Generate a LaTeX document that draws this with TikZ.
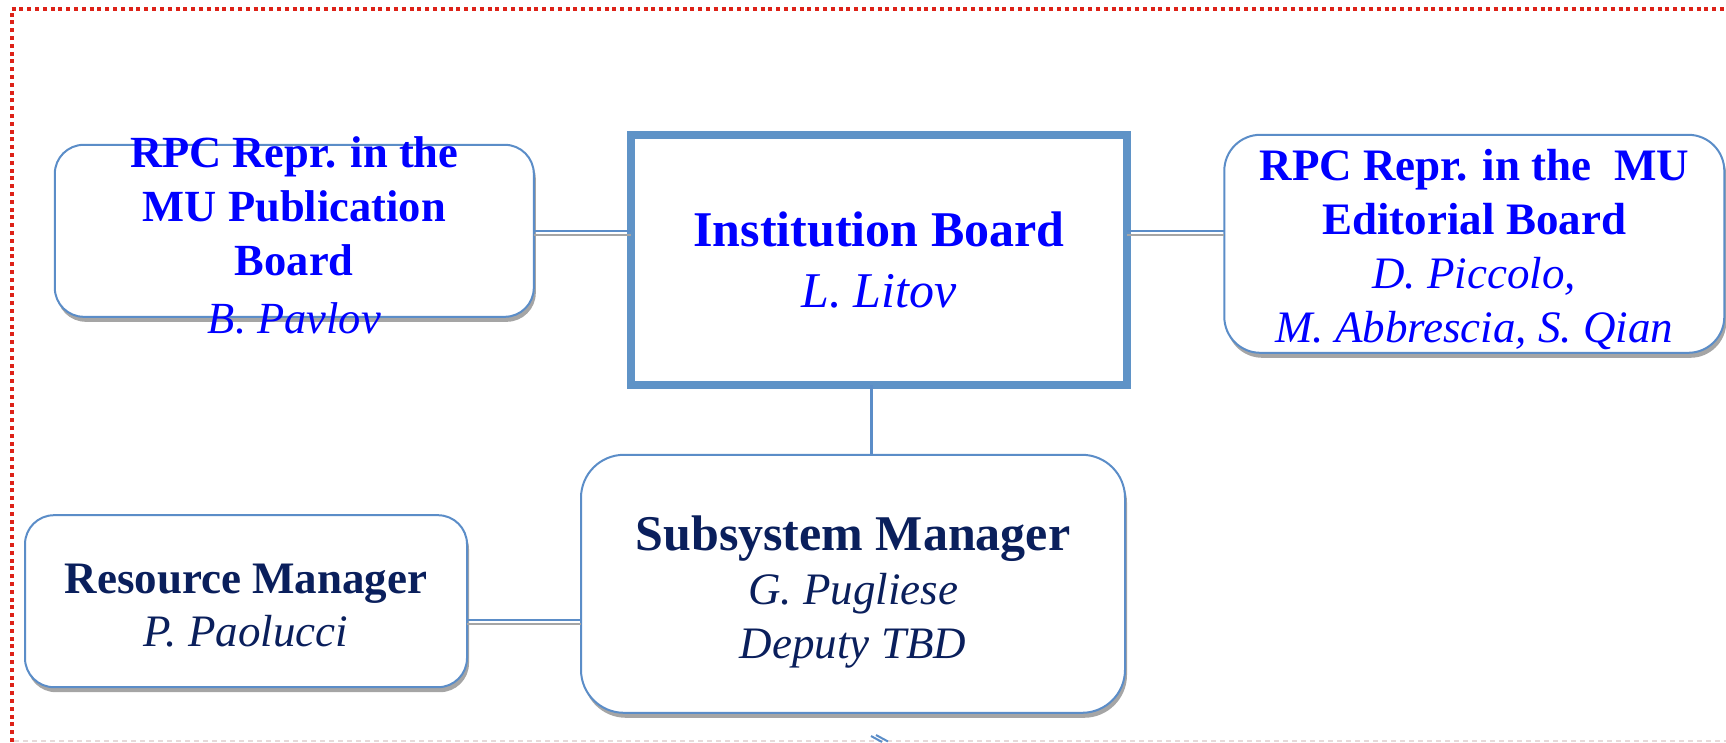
\documentclass[tikz,border=0pt]{standalone}
\usepackage{fontspec}
\setmainfont{Liberation Serif}
\usetikzlibrary{shadows}
\definecolor{boxblue}{HTML}{5B8DC8}
\definecolor{ibblue}{HTML}{5F93C7}
\definecolor{txtblue}{HTML}{0000FF}
\definecolor{navy}{HTML}{0A1F5C}
\definecolor{dotred}{HTML}{DD2218}
\definecolor{shadowgray}{HTML}{A5A5A5}
\definecolor{faintline}{HTML}{E6DADA}
\begin{document}
\begin{tikzpicture}[x=1pt,y=-1pt,
  roundbox/.style={draw=boxblue, line width=2pt, fill=white, rounded corners=#1,
    inner sep=0pt, outer sep=0pt,
    drop shadow={shadow xshift=2pt, shadow yshift=-5pt, fill=shadowgray, opacity=1}},
  roundbox/.default=29pt,
  ibbox/.style={draw=ibblue, line width=8pt, fill=white, inner sep=0pt, outer sep=0pt, align=center},
  boxtext/.style={inner sep=0pt, outer sep=0pt, align=center},
  linkline/.style={draw=boxblue, line width=2.5pt},
  linkshadow/.style={draw=shadowgray, line width=2.5pt, transform canvas={yshift=-4pt}},
  tipline/.style={draw=boxblue, line width=2pt}
]
\useasboundingbox (0,0) rectangle (1726,742);

% page frame
\draw[dotred, line width=4pt, dash pattern=on 4pt off 3.8pt] (11.5,742) -- (11.5,9) -- (1726,9);
\draw[faintline, line width=1.5pt, dash pattern=on 5pt off 4pt] (14,741) -- (1726,741);

% boxes
\node[roundbox=29pt, minimum width=479pt, minimum height=172pt] (pub) at (294.3,230.8) {};
\node[boxtext, text=txtblue, font=\fontsize{44.5}{54}\selectfont, yshift=-5pt] (pubtext) at (pub.center)
  {\textbf{RPC Repr. in the}\\ \textbf{MU Publication}\\ \textbf{Board}\\[4pt] \textit{B. Pavlov}};

\node[ibbox, minimum width=496pt, minimum height=250pt, text=txtblue,
      font=\fontsize{50}{61.6}\selectfont] (ib) at (879,260)
  {\textbf{Institution Board}\\ \textit{L. Litov}};

\node[roundbox=36pt, minimum width=500pt, minimum height=218pt] (edit) at (1474.3,243.8) {};
\node[boxtext, text=txtblue, font=\fontsize{45}{54}\selectfont, yshift=-2.2pt] (edittext) at (edit.center)
  {\textbf{RPC Repr. in the~ MU}\\ \textbf{Editorial Board}\\ \textit{D. Piccolo,}\\ \smash{\textit{M. Abbrescia, S. Qian}}};

\node[roundbox=29pt, minimum width=442pt, minimum height=172pt] (rm) at (246,601.2) {};
\node[boxtext, text=navy, font=\fontsize{45}{53}\selectfont, yshift=-4.4pt] (rmtext) at (rm.center)
  {\textbf{Resource Manager}\\ \textit{P. Paolucci}};

\node[roundbox=43pt, minimum width=544pt, minimum height=258pt] (sm) at (853,583.8) {};
\node[boxtext, text=navy, font=\fontsize{45}{54}\selectfont, yshift=-3.3pt] (smtext) at (sm.center)
  {{\fontsize{50}{54}\selectfont\textbf{Subsystem Manager}}\\ \textit{G. Pugliese}\\ \smash{\textit{Deputy TBD}}};

% connectors
\path[linkshadow] (pub.east) -- (pub.east -| ib.west);
\path[linkline] (pub.east) -- (pub.east -| ib.west);
\path[linkshadow] (pub.east -| ib.east) -- (pub.east -| edit.west);
\path[linkline] (pub.east -| ib.east) -- (pub.east -| edit.west);
\path[linkshadow] ([yshift=-19pt]rm.east) -- ([yshift=-19pt]rm.east -| sm.west);
\path[linkline] ([yshift=-19pt]rm.east) -- ([yshift=-19pt]rm.east -| sm.west);
\path[linkline] ([xshift=-7.6pt]ib.south) -- ([xshift=-7.6pt]ib.south |- sm.north);

% partial arrow tip at the lower edge
\coordinate (tipA) at (871,736);
\coordinate (tipB) at (876,735);
\path[tipline] (tipA) -- ++(11,6);
\path[tipline] (tipB) -- ++(12,6.5);
\end{tikzpicture}
\end{document}
